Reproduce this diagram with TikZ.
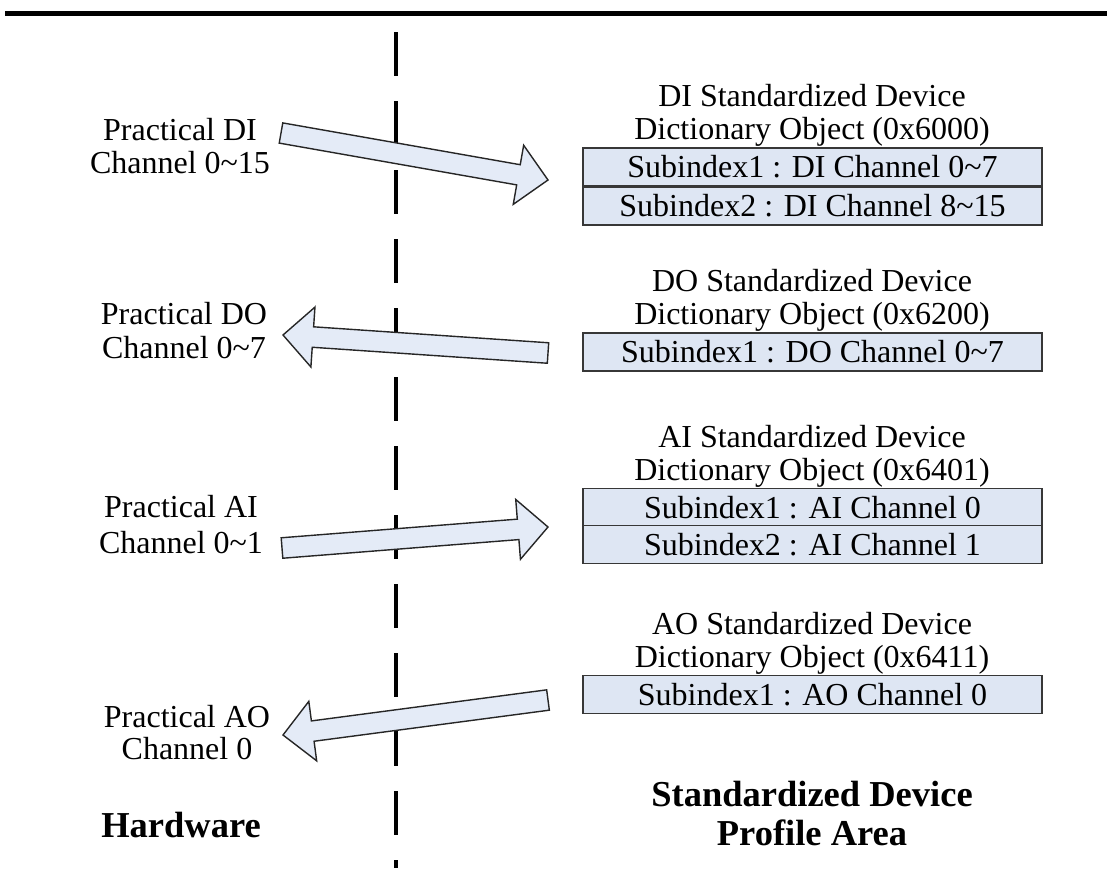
\documentclass[tikz,border=0pt]{standalone}
\usepackage{fontspec}
\setmainfont{Liberation Serif}
\usetikzlibrary{calc}
\definecolor{arrowfill}{RGB}{228,235,247}
\definecolor{boxfill}{RGB}{222,230,243}
\definecolor{boxline}{RGB}{55,55,55}
\tikzset{
  txt/.style={inner sep=0pt, font=\fontsize{32}{32}\selectfont},
  boldtxt/.style={inner sep=0pt, font=\fontsize{36.5}{36.5}\selectfont\bfseries},
  rowbox/.style={draw=boxline, line width=1.6pt, fill=boxfill, inner sep=0pt,
    minimum width=459pt, minimum height=38pt, text height=21pt, text depth=0pt,
    font=\fontsize{32}{32}\selectfont},
  arrowstyle/.style={draw=black!85, line width=1.4pt, fill=arrowfill, line join=miter},
  divider/.style={line width=4pt, dash pattern=on 44pt off 25pt}
}
\newcommand\blockarrow[2]{%
  \coordinate (#1-b) at ($(#2)!30pt!(#1)$);
  \draw[arrowstyle]
    ($(#1)!10.25pt!90:(#2)$) -- ($(#1-b)!10.25pt!-90:(#1)$) --
    ($(#1-b)!30pt!-90:(#1)$) -- (#2) --
    ($(#1-b)!30pt!90:(#1)$) -- ($(#1-b)!10.25pt!90:(#1)$) --
    ($(#1)!10.25pt!-90:(#2)$) -- cycle;
}
\begin{document}
\begin{tikzpicture}[x=1pt, y=-1pt]
\useasboundingbox (0,0) rectangle (1107,868);
% top bar
\fill (5,10.5) rectangle (1107,16);
% divider
\coordinate (dtop) at (396,32);
\coordinate (dbot) at (396,868);
\draw[divider] (dtop) -- (dbot);

% arrows
\coordinate (diT) at (281,133);
\coordinate (diH) at (548,180);
\coordinate (doT) at (548,353);
\coordinate (doH) at (283,335);
\coordinate (aiT) at (282,548);
\coordinate (aiH) at (548,527);
\coordinate (aoT) at (548,700);
\coordinate (aoH) at (283,735);
\blockarrow{diT}{diH}
\blockarrow{doT}{doH}
\blockarrow{aiT}{aiH}
\blockarrow{aoT}{aoH}

% left labels
\node[txt, anchor=base] (ldi1) at (180,140) {Practical DI};
\node[txt, anchor=base] (ldi2) at (180,173) {Channel 0\textasciitilde15};
\node[txt, anchor=base] (ldo1) at (184,324) {Practical DO};
\node[txt, anchor=base] (ldo2) at (184,358) {Channel 0\textasciitilde7};
\node[txt, anchor=base] (lai1) at (181,517) {Practical AI};
\node[txt, anchor=base] (lai2) at (181,553) {Channel 0\textasciitilde1};
\node[txt, anchor=base] (lao1) at (187,727) {Practical AO};
\node[txt, anchor=base] (lao2) at (187,759) {Channel 0};

% DI block
\node[txt, anchor=base] (dit1) at (812,106) {DI Standardized Device};
\node[txt, anchor=base] (dit2) at (812,139) {Dictionary Object (0x6000)};
\node[rowbox] (dir1) at (812.5,167.25) {Subindex1 : DI Channel 0\textasciitilde7};
\node[rowbox] (dir2) at (812.5,205.75) {Subindex2 : DI Channel 8\textasciitilde15};
% DO block
\node[txt, anchor=base] (dot1) at (812,291) {DO Standardized Device};
\node[txt, anchor=base] (dot2) at (812,324) {Dictionary Object (0x6200)};
\node[rowbox] (dor1) at (812.5,352) {Subindex1 : DO Channel 0\textasciitilde7};
% AI block
\node[txt, anchor=base] (ait1) at (812,447) {AI Standardized Device};
\node[txt, anchor=base] (ait2) at (812,480) {Dictionary Object (0x6401)};
\node[rowbox] (air1) at (812.5,507.5) {Subindex1 : AI Channel 0};
\node[rowbox] (air2) at (812.5,544.5) {Subindex2 : AI Channel 1};
% AO block
\node[txt, anchor=base] (aot1) at (812,634) {AO Standardized Device};
\node[txt, anchor=base] (aot2) at (812,667) {Dictionary Object (0x6411)};
\node[rowbox] (aor1) at (812.5,694.5) {Subindex1 : AO Channel 0};

% bottom titles
\node[boldtxt, anchor=base] (hw) at (181,837) {Hardware};
\node[boldtxt, anchor=base] (sd1) at (812,806) {Standardized Device};
\node[boldtxt, anchor=base] (sd2) at (812,845) {Profile Area};
\end{tikzpicture}
\end{document}
